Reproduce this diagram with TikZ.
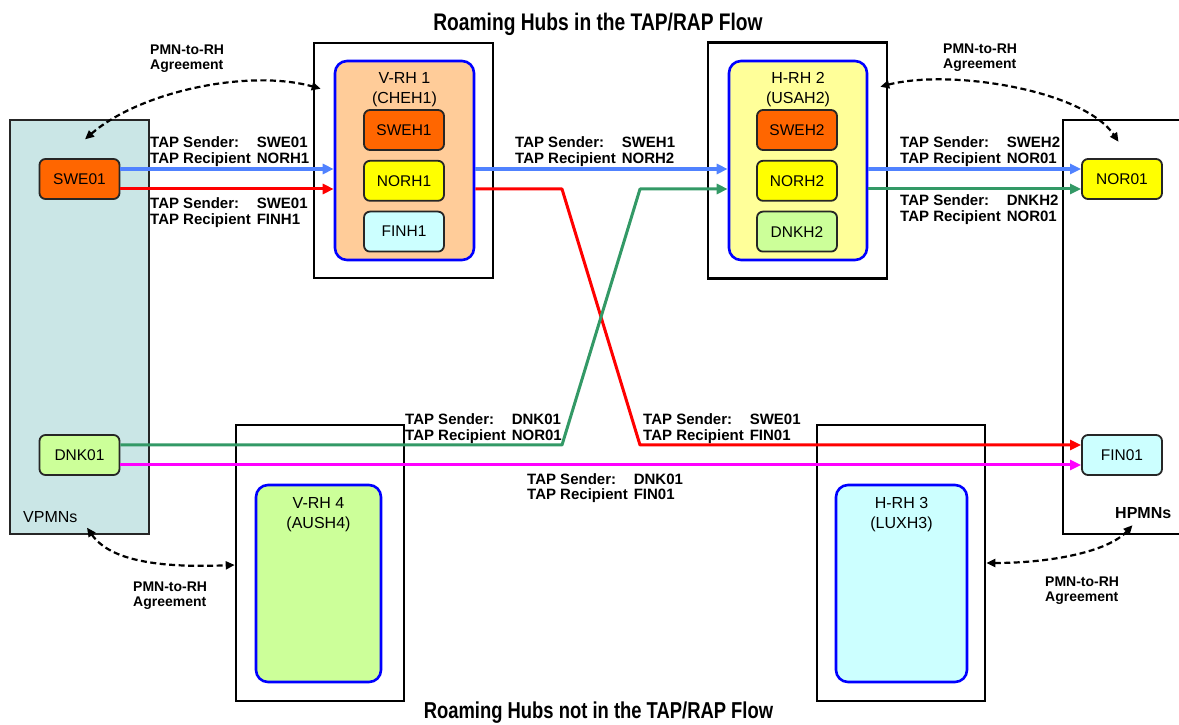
\documentclass[tikz,border=0pt]{standalone}
\usepackage{fontspec}
\setmainfont{Liberation Sans}
\newfontfamily\titlefont[FakeStretch=0.8]{Liberation Sans}
\usetikzlibrary{arrows.meta,positioning}
\definecolor{orangebox}{RGB}{255,102,0}
\definecolor{yellowbox}{RGB}{255,255,0}
\definecolor{cyanbox}{RGB}{204,255,255}
\definecolor{greenbox}{RGB}{204,255,153}
\definecolor{peachhub}{RGB}{255,204,153}
\definecolor{lemonhub}{RGB}{255,255,153}
\definecolor{vpmnfill}{RGB}{202,230,230}
\definecolor{hubblue}{RGB}{0,0,255}
\definecolor{flowblue}{RGB}{80,130,255}
\definecolor{flowred}{RGB}{255,0,0}
\definecolor{flowgreen}{RGB}{51,153,102}
\definecolor{flowpink}{RGB}{255,0,255}

\newcommand{\tapinfo}[2]{\begin{tabular}[t]{@{}l@{\hspace{6pt}}l@{}}TAP Sender: & #1\\TAP Recipient & #2\end{tabular}}
\newcommand{\pmnrh}{\begin{tabular}[t]{@{}l@{}}PMN-to-RH\\Agreement\end{tabular}}
\newcommand{\hubname}[2]{\begin{tabular}[t]{@{}c@{}}#1\\#2\end{tabular}}

\tikzset{
  netbox/.style={draw=black!85, line width=1.8pt, rounded corners=6pt, minimum width=80pt, minimum height=40pt, font=\fontsize{15.5}{18}\selectfont},
  hubframe/.style={draw=black, line width=2.6pt},
  hubinner/.style={draw=hubblue, line width=2.6pt, rounded corners=12pt},
  hubtitle/.style={font=\fontsize{16}{20}\selectfont},
  taplabel/.style={anchor=base west, font=\fontsize{15}{15}\selectfont\bfseries},
  tapflow/.style={line width=3pt, line join=round, -{Triangle[length=11pt,width=10pt]}},
  agree/.style={line width=2.2pt, dash pattern=on 6pt off 3.5pt, {Triangle[length=9pt,width=8pt]}-{Triangle[length=9pt,width=8pt]}}
}

\begin{document}
\begin{tikzpicture}[x=1pt, y=1pt, node distance=9pt, every node/.style={inner sep=0pt}]
  \useasboundingbox (0,0) rectangle (1179,724);

  % visited and home networks
  \node[draw=black!85, line width=1.3pt, fill=vpmnfill, minimum width=139pt, minimum height=414pt] (vpmn) at (79.5,397) {};
  \node[minimum width=139pt, minimum height=414pt] (hpmn) at (1132.5,397) {};
  \draw[line width=2pt] ([xshift=116pt]hpmn.north west) -- (hpmn.north west) -- (hpmn.south west) -- ([xshift=116pt]hpmn.south west);
  \node[anchor=base west, font=\fontsize{16}{19}\selectfont] (vpmnlab) at (23,201) {VPMNs};
  \node[anchor=base west, font=\fontsize{16}{19}\selectfont\bfseries] (hpmnlab) at (1115,206) {HPMNs};

  \node[netbox, fill=orangebox] (swe01) at (79.5,545) {SWE01};
  \node[netbox, fill=greenbox] (dnk01) at (79.5,269) {DNK01};
  \node[netbox, fill=yellowbox] (nor01) at (1122,545) {NOR01};
  \node[netbox, fill=cyanbox] (fin01) at (1122,269) {FIN01};

  % hubs in the flow
  \node[hubframe, minimum width=179pt, minimum height=235pt] (vrh1box) at (403.5,563.5) {};
  \node[hubinner, fill=peachhub, minimum width=139pt, minimum height=199pt] (vrh1in) at (404.5,563.5) {};
  \node[hubtitle, below=10pt of vrh1in.north] (vrh1t) {\hubname{V-RH 1}{(CHEH1)}};
  \node[netbox, fill=orangebox] (sweh1) at (404,594) {SWEH1};
  \node[netbox, fill=yellowbox, below=of sweh1] (norh1) {NORH1};
  \node[netbox, fill=cyanbox, below=of norh1] (finh1) {FINH1};

  \node[hubframe, minimum width=179pt, minimum height=236pt] (hrh2box) at (797.5,563.5) {};
  \node[hubinner, fill=lemonhub, minimum width=138pt, minimum height=199pt] (hrh2in) at (798,563.5) {};
  \node[hubtitle, below=10pt of hrh2in.north] (hrh2t) {\hubname{H-RH 2}{(USAH2)}};
  \node[netbox, fill=orangebox] (sweh2) at (797,594) {SWEH2};
  \node[netbox, fill=yellowbox, below=of sweh2] (norh2) {NORH2};
  \node[netbox, fill=greenbox, below=of norh2] (dnkh2) {DNKH2};

  % hubs not in the flow
  \node[hubframe, minimum width=168pt, minimum height=276pt] (vrh4box) at (320,161) {};
  \node[hubinner, fill=greenbox, minimum width=125pt, minimum height=197pt] (vrh4in) at (318.5,140.5) {};
  \node[hubtitle, below=11pt of vrh4in.north] (vrh4t) {\hubname{V-RH 4}{(AUSH4)}};

  \node[hubframe, minimum width=168pt, minimum height=276pt] (hrh3box) at (901,161) {};
  \node[hubinner, fill=cyanbox, minimum width=131pt, minimum height=197pt] (hrh3in) at (901.5,140.5) {};
  \node[hubtitle, below=11pt of hrh3in.north] (hrh3t) {\hubname{H-RH 3}{(LUXH3)}};

  % lanes of the TAP flows
  \coordinate (toplane) at (0,555);
  \coordinate (redlane) at (0,535);
  \coordinate (grnlane) at (0,279);
  \coordinate (maglane) at (0,259);
  \coordinate (xa) at (562,0);
  \coordinate (xb) at (640,0);

  \draw[tapflow, flowblue, line width=4pt] (swe01.east |- toplane) -- (vrh1in.west |- toplane);
  \draw[tapflow, flowred] (swe01.east |- redlane) -- (vrh1in.west |- redlane);
  \draw[tapflow, flowblue, line width=4pt] (vrh1in.east |- toplane) -- (hrh2in.west |- toplane);
  \draw[tapflow, flowred] (vrh1in.east |- redlane) -- (xa |- redlane) -- (xb |- grnlane) -- (fin01.west |- grnlane);
  \draw[tapflow, flowgreen] (dnk01.east |- grnlane) -- (xa |- grnlane) -- (xb |- redlane) -- (hrh2in.west |- redlane);
  \draw[tapflow, flowpink] (dnk01.east |- maglane) -- (fin01.west |- maglane);
  \draw[tapflow, flowblue, line width=4pt] (hrh2in.east |- toplane) -- (nor01.west |- toplane);
  \draw[tapflow, flowgreen] (hrh2in.east |- redlane) -- (nor01.west |- redlane);

  \node[taplabel] (tap1) at (150,576) {\tapinfo{SWE01}{NORH1}};
  \node[taplabel] (tap2) at (150,515) {\tapinfo{SWE01}{FINH1}};
  \node[taplabel] (tap3) at (515,576) {\tapinfo{SWEH1}{NORH2}};
  \node[taplabel] (tap4) at (900,576) {\tapinfo{SWEH2}{NOR01}};
  \node[taplabel] (tap5) at (900,518) {\tapinfo{DNKH2}{NOR01}};
  \node[taplabel] (tap6) at (405,299) {\tapinfo{DNK01}{NOR01}};
  \node[taplabel] (tap7) at (643,299) {\tapinfo{SWE01}{FIN01}};
  \node[taplabel] (tap8) at (527,240) {\tapinfo{DNK01}{FIN01}};

  % agreements
  \draw[agree] ([shift={(5.5pt,-20pt)}]vpmn.north) .. controls +(55,48) and +(-72,20) .. ([shift={(8pt,-47pt)}]vrh1box.north west);
  \draw[agree] ([shift={(-8pt,-45.5pt)}]hrh2box.north east) .. controls +(70,18) and +(-35,52) .. ([shift={(-14pt,-22pt)}]hpmn.north);
  \draw[agree] ([shift={(7.5pt,7pt)}]vpmn.south) .. controls +(23,-33) and +(-76,-3) .. ([yshift=-2pt]vrh4box.west);
  \draw[agree] (hrh3box.east) .. controls +(63,0) and +(-25,-27) .. ([yshift=9pt]hpmn.south);

  \node[taplabel, font=\fontsize{14}{15}\selectfont\bfseries] (agr1) at (150,669) {\pmnrh};
  \node[taplabel, font=\fontsize{14}{15}\selectfont\bfseries] (agr2) at (943,670) {\pmnrh};
  \node[taplabel, font=\fontsize{14}{15}\selectfont\bfseries] (agr3) at (133,133) {\pmnrh};
  \node[taplabel, font=\fontsize{14}{15}\selectfont\bfseries] (agr4) at (1045,138) {\pmnrh};

  % titles
  \node[anchor=base, font=\titlefont\fontsize{24}{28}\selectfont\bfseries] (title1) at (598,693) {Roaming Hubs in the TAP/RAP Flow};
  \node[anchor=base, font=\titlefont\fontsize{23}{28}\selectfont\bfseries] (title2) at (598.5,6) {Roaming Hubs not in the TAP/RAP Flow};
\end{tikzpicture}
\end{document}
